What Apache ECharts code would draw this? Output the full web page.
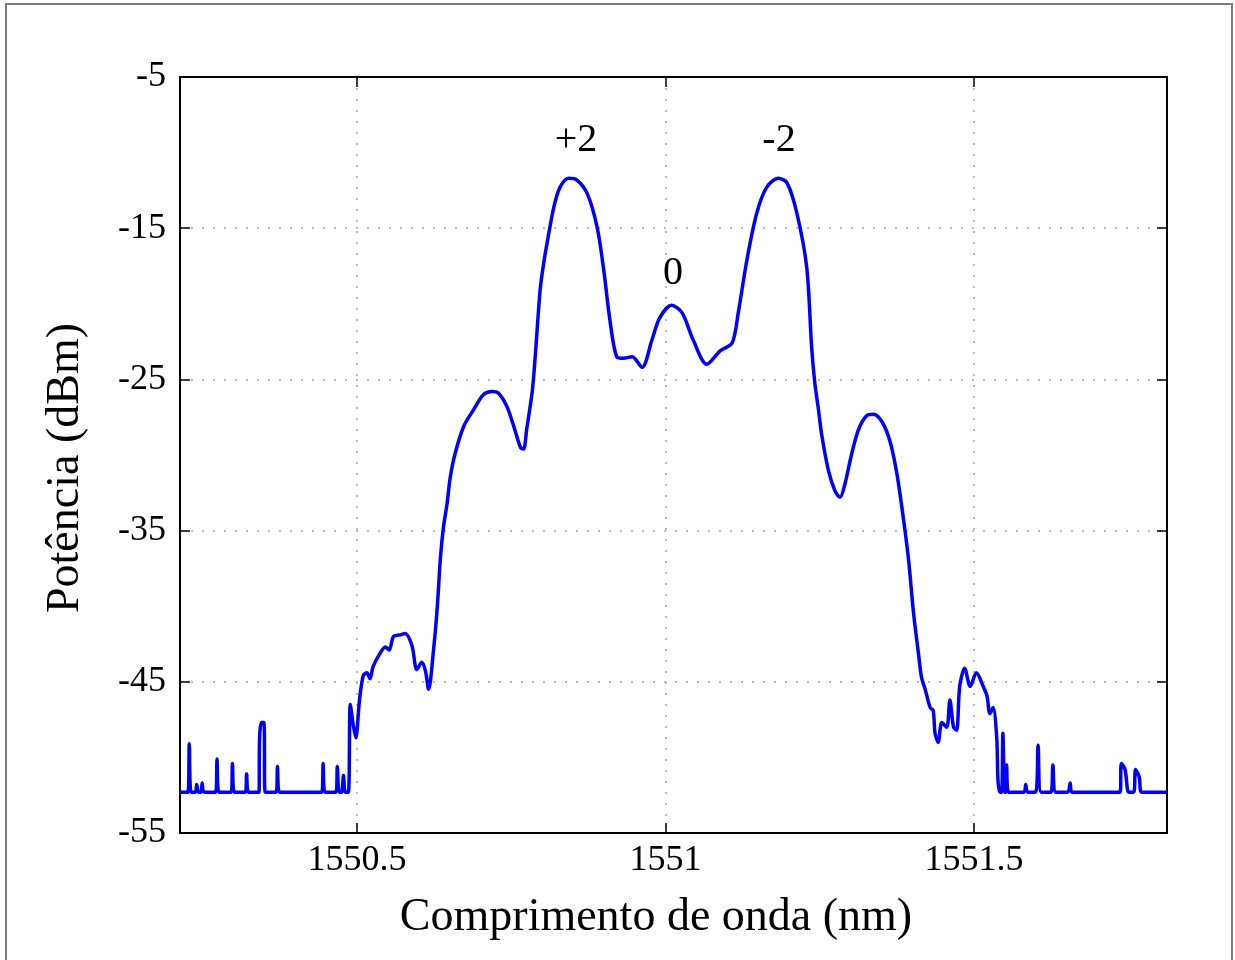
<!DOCTYPE html>
<html>
<head>
<meta charset="utf-8">
<title>Espectro óptico</title>
<script src="https://cdn.jsdelivr.net/npm/echarts@6/dist/echarts.min.js"></script>
<style>
  html, body { margin: 0; padding: 0; background: #fff; }
  #chart { width: 1235px; height: 960px; }
</style>
</head>
<body>
<div id="chart"></div>
<script>
// Optical spectrum: wavelength (nm) vs. power (dBm)
const wavelength = [
  1550.213, 1550.226, 1550.228, 1550.231, 1550.238, 1550.240, 1550.243, 1550.247, 1550.249, 1550.252,
  1550.271, 1550.273, 1550.276, 1550.296, 1550.298, 1550.301, 1550.319, 1550.321, 1550.324,
  1550.341, 1550.342, 1550.345, 1550.349, 1550.351, 1550.369, 1550.371, 1550.374,
  1550.443, 1550.445, 1550.448, 1550.466, 1550.468, 1550.471, 1550.475, 1550.478, 1550.481,
  1550.486, 1550.489, 1550.494, 1550.498, 1550.504, 1550.510, 1550.516, 1550.521, 1550.526,
  1550.536, 1550.546, 1550.552, 1550.559, 1550.569, 1550.578, 1550.589, 1550.597, 1550.605,
  1550.611, 1550.616, 1550.624, 1550.630, 1550.635, 1550.640, 1550.646, 1550.651, 1550.659,
  1550.673, 1550.689, 1550.705, 1550.719, 1550.729, 1550.743, 1550.754, 1550.765, 1550.770,
  1550.775, 1550.784, 1550.789, 1550.797, 1550.803, 1550.808, 1550.819, 1550.829, 1550.843, 1550.856,
  1550.873, 1550.889, 1550.900, 1550.910, 1550.921, 1550.932, 1550.946, 1550.962, 1550.978,
  1550.991, 1551.010, 1551.027, 1551.045, 1551.067, 1551.089, 1551.108, 1551.118, 1551.132,
  1551.148, 1551.164, 1551.183, 1551.197, 1551.213, 1551.229, 1551.237, 1551.242, 1551.248,
  1551.253, 1551.264, 1551.275, 1551.283, 1551.291, 1551.302, 1551.313, 1551.326, 1551.337,
  1551.351, 1551.364, 1551.375, 1551.386, 1551.394, 1551.402, 1551.410, 1551.415, 1551.421,
  1551.429, 1551.434, 1551.437, 1551.442, 1551.448, 1551.456, 1551.461, 1551.467, 1551.472,
  1551.477, 1551.485, 1551.494, 1551.504, 1551.515, 1551.521, 1551.526, 1551.531, 1551.537,
  1551.539, 1551.542, 1551.545, 1551.547, 1551.550, 1551.552, 1551.553, 1551.556,
  1551.581, 1551.584, 1551.587, 1551.600, 1551.604, 1551.609, 1551.625, 1551.628, 1551.633,
  1551.652, 1551.656, 1551.659, 1551.737, 1551.739, 1551.745, 1551.751, 1551.759, 1551.762,
  1551.768, 1551.772, 1551.813
];
const power = [
  -52.3, -52.3, -49.1, -52.3, -52.3, -51.8, -52.3, -52.3, -51.7, -52.3,
  -52.3, -50.1, -52.3, -52.3, -50.4, -52.3, -52.3, -51.1, -52.3,
  -52.3, -48.7, -47.7, -47.7, -52.3, -52.3, -50.6, -52.3,
  -52.3, -50.4, -52.3, -52.3, -50.6, -52.3, -52.3, -51.2, -52.3,
  -52.3, -46.5, -47.9, -48.7, -46.2, -44.6, -44.4, -44.8, -44.0,
  -43.2, -42.7, -42.9, -42.0, -41.9, -41.8, -42.6, -44.2, -43.7,
  -44.3, -45.5, -42.9, -40.1, -36.9, -34.8, -33.2, -31.5, -29.9,
  -28.1, -27.0, -26.0, -25.8, -25.9, -26.8, -28.1, -29.5, -29.6,
  -28.3, -25.8, -23.4, -19.0, -17.2, -16.0, -13.6, -12.3, -11.7, -11.8,
  -12.7, -14.9, -17.8, -21.1, -23.5, -23.6, -23.5, -24.2, -22.4,
  -20.9, -20.1, -20.6, -22.4, -24.0, -23.1, -22.6, -20.6, -17.1,
  -14.0, -12.3, -11.7, -12.0, -14.0, -17.6, -22.9, -25.2, -27.0,
  -28.6, -31.0, -32.4, -32.8, -31.9, -29.9, -28.3, -27.4, -27.3,
  -27.8, -29.1, -31.2, -34.3, -36.9, -40.4, -43.1, -44.7, -45.5,
  -46.7, -46.9, -48.4, -49.0, -47.7, -48.0, -46.2, -48.0, -48.2,
  -45.3, -44.1, -45.3, -44.4, -45.3, -45.9, -47.1, -46.7, -48.7,
  -51.5, -52.3, -52.3, -48.4, -52.3, -52.3, -50.5, -52.3,
  -52.3, -51.8, -52.3, -52.3, -49.2, -52.3, -52.3, -50.5, -52.3,
  -52.3, -51.7, -52.3, -52.3, -50.4, -50.8, -52.3, -52.3, -50.8,
  -51.3, -52.3, -52.3
];

// Diffraction order labels above the peaks
const orderLabels = ['+2', '0', '-2'];
const orderX = [1550.855, 1551.012, 1551.184];
const orderY = [-9.2, -18.0, -9.2];

// Tick values and their printed text
const xTicks = [1550.5, 1551, 1551.5];
const xTickText = ['1550.5', '1551', '1551.5'];
const yTicks = [-55, -45, -35, -25, -15, -5];

const X_MIN = 1550.213, X_MAX = 1551.813;
const Y_MIN = -55, Y_MAX = -5;

const SERIF = '"Liberation Serif", "Times New Roman", serif';

const chart = echarts.init(document.getElementById('chart'), null, { renderer: 'canvas' });

const gridLine = { show: true, lineStyle: { color: '#a8a8a8', width: 1.5, type: [2, 9] } };
const frameLine = { show: true, onZero: false, lineStyle: { color: '#000', width: 2 } };

function xLabel(v) {
  const i = xTicks.findIndex(t => Math.abs(t - v) < 1e-6);
  return i >= 0 ? xTickText[i] : '';
}

function xAxisCfg(pos, primary) {
  return {
    type: 'value', position: pos, min: X_MIN, max: X_MAX,
    axisLine: frameLine,
    axisTick: { show: true, inside: true, length: 10, customValues: xTicks, lineStyle: { color: '#000', width: 1.5 } },
    axisLabel: primary ? {
      show: true, customValues: xTicks, margin: 10, formatter: xLabel,
      fontFamily: SERIF, fontSize: 36, color: '#000'
    } : { show: false },
    splitLine: primary ? gridLine : { show: false }
  };
}
function yAxisCfg(pos, primary) {
  return {
    type: 'value', position: pos, min: Y_MIN, max: Y_MAX,
    axisLine: frameLine,
    axisTick: { show: true, inside: true, length: 10, customValues: yTicks, lineStyle: { color: '#000', width: 1.5 } },
    axisLabel: primary ? {
      show: true, customValues: yTicks, margin: 14, formatter: v => String(v),
      fontFamily: SERIF, fontSize: 36, color: '#000'
    } : { show: false },
    splitLine: primary ? gridLine : { show: false }
  };
}

const option = {
  backgroundColor: '#fff',
  animation: false,
  grid: { left: 180, right: 68, top: 77, bottom: 127, containLabel: false },
  xAxis: [xAxisCfg('bottom', true), xAxisCfg('top', false)],
  yAxis: [yAxisCfg('left', true), yAxisCfg('right', false)],
  series: [
    {
      name: 'Espectro',
      type: 'line',
      data: wavelength.map((w, i) => [w, power[i]]),
      showSymbol: false,
      symbol: 'none',
      smooth: 0.3,
      lineStyle: { color: '#0000ff', width: 3.5, join: 'round' },
      z: 5
    },
    {
      name: 'Ordens',
      type: 'scatter',
      data: orderLabels.map((t, i) => ({ value: [orderX[i], orderY[i]], name: t })),
      symbolSize: 0,
      silent: true,
      itemStyle: { opacity: 1 },
      label: {
        show: true, position: 'inside',
        formatter: p => p.name,
        fontFamily: SERIF, fontSize: 40, color: '#000', opacity: 1
      },
      z: 6
    }
  ],
  graphic: [
    {
      type: 'rect', silent: true,
      shape: { x: 6, y: 4, width: 1226, height: 960 },
      style: { fill: 'none', stroke: '#7a7a7a', lineWidth: 2 }
    },
    {
      type: 'text', silent: true, x: 656, y: 918,
      style: {
        text: 'Comprimento de onda (nm)', fontFamily: SERIF, fontSize: 46,
        fill: '#000', align: 'center', verticalAlign: 'middle'
      }
    },
    {
      type: 'text', silent: true, x: 66, y: 468, rotation: Math.PI / 2,
      style: {
        text: 'Potência (dBm)', fontFamily: SERIF, fontSize: 46,
        fill: '#000', align: 'center', verticalAlign: 'middle'
      }
    }
  ]
};

chart.setOption(option);
</script>
</body>
</html>
